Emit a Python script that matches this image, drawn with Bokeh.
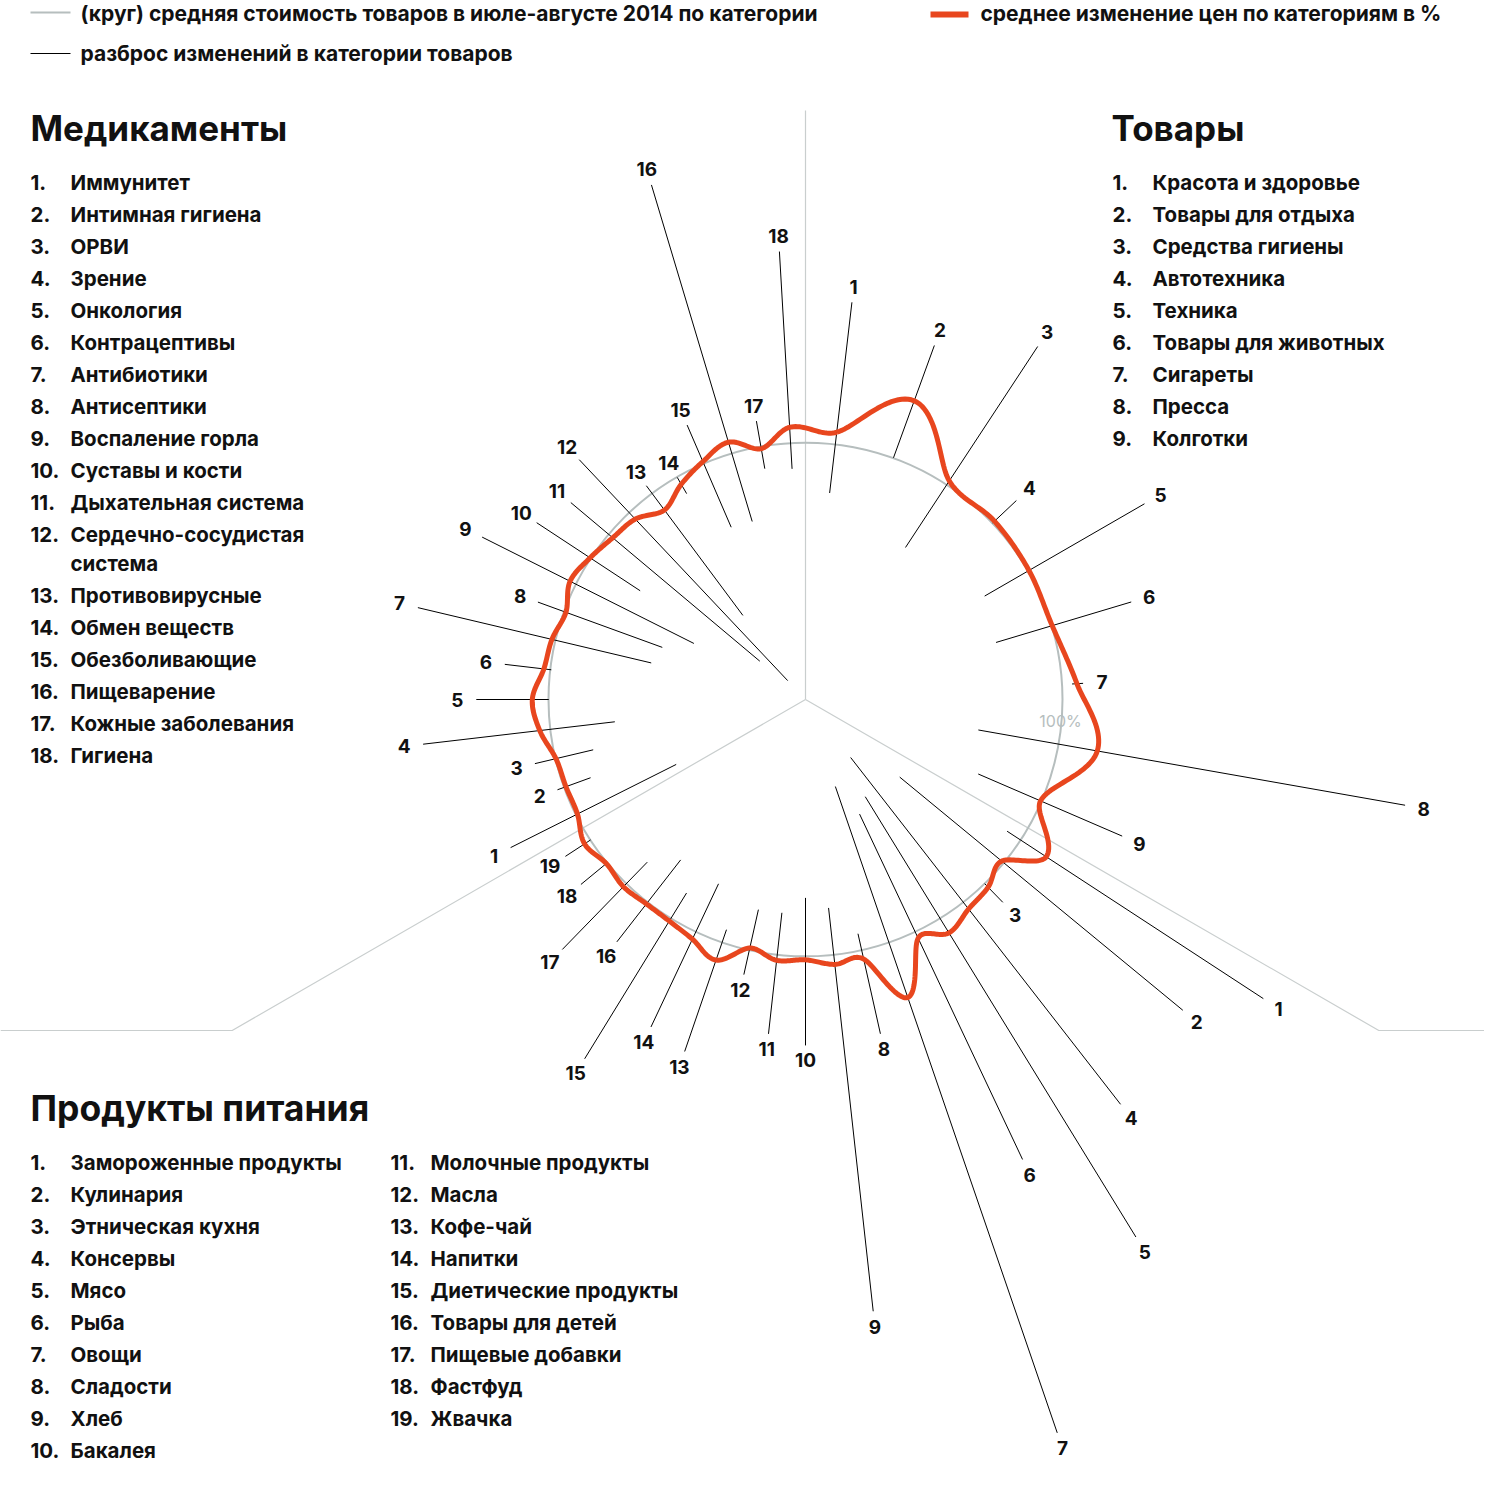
import math
from bokeh.plotting import figure
from bokeh.embed import file_html
from bokeh.resources import INLINE
from bokeh.core.properties import value

# ---------------- data (percent, 100 = average price in Jul-Aug 2014) ----------------
goods_names = ["Красота и здоровье", "Товары для отдыха", "Средства гигиены", "Автотехника",
               "Техника", "Товары для животных", "Сигареты", "Пресса", "Колготки"]
goods_min = [80.9, 100.1, 70.8, 100.1, 80.5, 77.4, 103.9, 68.3, 73.2]
goods_max = [155.6, 146.6, 164.4, 112.8, 152.3, 132.3, 108.2, 236.9, 134.2]
goods_avg = [104.7, 123.7, 101.8, 101.1, 100.4, 100.2, 105.8, 115.3, 99.6]

food_names = ["Замороженные продукты", "Кулинария", "Этническая кухня", "Консервы", "Мясо",
              "Рыба", "Овощи", "Сладости", "Хлеб", "Бакалея", "Молочные продукты", "Масла",
              "Кофе-чай", "Напитки", "Диетические продукты", "Товары для детей",
              "Пищевые добавки", "Фастфуд", "Жвачка"]
food_min = [93.7, 47.5, 100.0, 28.6, 44.4, 49.3, 35.8, 93.4, 81.6, 77.2, 83.5, 83.8, 94.7,
            79.3, 88.4, 79.1, 88.3, 100.0, 99.9]
food_max = [212.8, 190.2, 110.1, 199.6, 245.5, 197.9, 301.7, 133.3, 239.5, 134.6, 130.9,
            109.7, 144.8, 140.9, 164.1, 119.5, 135.7, 113.2, 111.6]
food_avg = [111.9, 98.9, 101.9, 103.3, 106.6, 102.7, 122.6, 103.5, 103.7, 101.3, 102.1,
            99.1, 107.2, 103.1, 101.2, 100.8, 101.6, 100.4, 102.7]

meds_names = ["Иммунитет", "Интимная гигиена", "ОРВИ", "Зрение", "Онкология", "Контрацептивы",
              "Антибиотики", "Антисептики", "Воспаление горла", "Суставы и кости",
              "Дыхательная система", "Сердечно-сосудистая|система", "Противовирусные",
              "Обмен веществ", "Обезболивающие", "Пищеварение", "Кожные заболевания", "Гигиена"]
meds_min = [56.3, 89.0, 84.9, 74.7, 99.9, 99.6, 61.7, 59.3, 48.6, 77.0, 23.2, 10.1, 40.8,
            92.5, 73.0, 72.3, 91.2, 89.9]
meds_max = [128.4, 102.7, 108.2, 149.8, 128.1, 117.8, 155.0, 110.8, 140.8, 125.2, 119.2,
            128.3, 103.7, 99.8, 116.3, 209.0, 110.0, 174.6]
meds_avg = [99.3, 99.2, 99.8, 104.1, 106.3, 102.5, 101.4, 99.2, 102.5, 100.3, 97.9, 96.5,
            91.9, 96.7, 100.8, 104.5, 99.1, 106.1]

legend_circle = "(круг) средняя стоимость товаров в июле-августе 2014 по категории"
legend_red = "среднее изменение цен по категориям в %"
legend_black = "разброс изменений в категории товаров"

# ---------------- layout ----------------
FONT = "Inter"
RED = "#E8461E"
GRAY = "#B6BEBE"
SECT = "#C9CECE"
TXT = "#111111"
H = 1500
CX, CY = 805, H - 699
S = 2.57  # px per percent

p = figure(width=1484, height=1484, x_range=(0, 1484), y_range=(H - 1484, H),
           output_backend="svg", toolbar_location=None, min_border=0)
p.axis.visible = False
p.xgrid.visible = False
p.ygrid.visible = False
p.outline_line_color = None


def pol(theta, r):
    t = math.radians(theta)
    return CX + r * math.sin(t), CY + r * math.cos(t)


def txt(xs, ys, texts, size="20px", align="left", color=TXT, style="bold"):
    p.text(x=xs, y=[H - y for y in ys], text=texts, text_font=value(FONT),
           text_font_size=size, text_align=align, text_baseline="middle",
           text_color=color, text_font_style=style)


# sector dividers
x0, y0 = pol(0, 0)
x1, y1 = pol(0, 589)
p.line([x0, x1], [y0, y1], line_color=SECT, line_width=1.2)
xl, yl = pol(240, 662)
p.line([CX, xl, 0], [CY, yl, yl], line_color=SECT, line_width=1.2)
xr, yr = pol(120, 662)
p.line([CX, xr, 1500], [CY, yr, yr], line_color=SECT, line_width=1.2)

# 100% circle
p.circle(x=[CX], y=[CY], radius=100 * S, fill_color=None, line_color=GRAY, line_width=2)
txt([1060], [720], ["100%"], size="16px", align="center", color=GRAY, style="normal")

# angles (degrees clockwise from top)
goods_th = [(k + 0.5) * 120 / len(goods_names) for k in range(len(goods_names))]
food_th = [120 + (k + 0.5) * 120 / len(food_names) for k in range(len(food_names))]
meds_th = [360 - (len(meds_names) - k - 0.5) * 120 / len(meds_names) for k in range(len(meds_names))]

groups = [(goods_th, goods_min, goods_max), (food_th, food_min, food_max),
          (meds_th, meds_min, meds_max)]
sx0, sy0, sx1, sy1 = [], [], [], []
lx, ly, lt = [], [], []
for ths, mins, maxs in groups:
    for i, (th, lo, hi) in enumerate(zip(ths, mins, maxs)):
        a = pol(th, lo * S)
        b = pol(th, hi * S)
        sx0.append(a[0]); sy0.append(a[1]); sx1.append(b[0]); sy1.append(b[1])
        off = 15 + 4 * abs(math.sin(math.radians(th)))
        c = pol(th, hi * S + off)
        lx.append(c[0]); ly.append(H - c[1]); lt.append(str(i + 1))
p.segment(x0=sx0, y0=sy0, x1=sx1, y1=sy1, line_color="black", line_width=1)
txt(lx, ly, lt, size="19px", align="center", color=TXT)

# red average curve: smooth periodic cubic Hermite through category averages
ths = goods_th + food_th + meds_th
avs = goods_avg + food_avg + meds_avg
n = len(ths)
tang = []
for i in range(n):
    tp, rp = ths[i - 1] - (360 if i == 0 else 0), avs[i - 1]
    tn, rn = ths[(i + 1) % n] + (360 if i == n - 1 else 0), avs[(i + 1) % n]
    tang.append((rn - rp) / (tn - tp))
cx, cy = [], []
for i in range(n):
    t0, r0 = ths[i], avs[i]
    t1, r1 = ths[(i + 1) % n] + (360 if i == n - 1 else 0), avs[(i + 1) % n]
    h = t1 - t0
    m0, m1 = tang[i], tang[(i + 1) % n]
    for s in range(24):
        u = s / 24
        r = ((2 * u**3 - 3 * u**2 + 1) * r0 + (u**3 - 2 * u**2 + u) * h * m0
             + (-2 * u**3 + 3 * u**2) * r1 + (u**3 - u**2) * h * m1)
        x, y = pol(t0 + u * h, r * S)
        cx.append(x); cy.append(y)
cx.append(cx[0]); cy.append(cy[0])
p.line(cx, cy, line_color=RED, line_width=5, line_join="round")

# legend
p.line([30, 70], [H - 12, H - 12], line_color=GRAY, line_width=2)
txt([80], [13], [legend_circle], size="21px")
p.line([930, 968], [H - 14, H - 14], line_color=RED, line_width=6)
txt([980], [13], [legend_red], size="21px")
p.line([30, 70], [H - 53, H - 53], line_color="black", line_width=1)
txt([80], [53], [legend_black], size="21px")

# headers
txt([30], [127], ["Медикаменты"], size="35px")
txt([1111], [127], ["Товары"], size="35px")
txt([30], [1108], ["Продукты питания"], size="35.5px")

# lists
LS = "20.5px"
nx, ny, nt, tx, ty, tt = [], [], [], [], [], []
y = 182
for i, name in enumerate(meds_names):
    nx.append(30); ny.append(y); nt.append(f"{i + 1}.")
    parts = name.split("|")
    for j, part in enumerate(parts):
        tx.append(70); ty.append(y + 29 * j); tt.append(part)
    y += 32 + 29 * (len(parts) - 1)
for i, name in enumerate(goods_names):
    nx.append(1112); ny.append(182 + 32 * i); nt.append(f"{i + 1}.")
    tx.append(1152); ty.append(182 + 32 * i); tt.append(name)
for i, name in enumerate(food_names):
    col = 0 if i < 10 else 1
    row = i if i < 10 else i - 10
    nx.append(30 + 360 * col); ny.append(1162 + 32 * row); nt.append(f"{i + 1}.")
    tx.append(70 + 360 * col); ty.append(1162 + 32 * row); tt.append(name)
txt(nx, ny, nt, size=LS)
txt(tx, ty, tt, size=LS)

open("out.html", "w").write(file_html(p, INLINE))
